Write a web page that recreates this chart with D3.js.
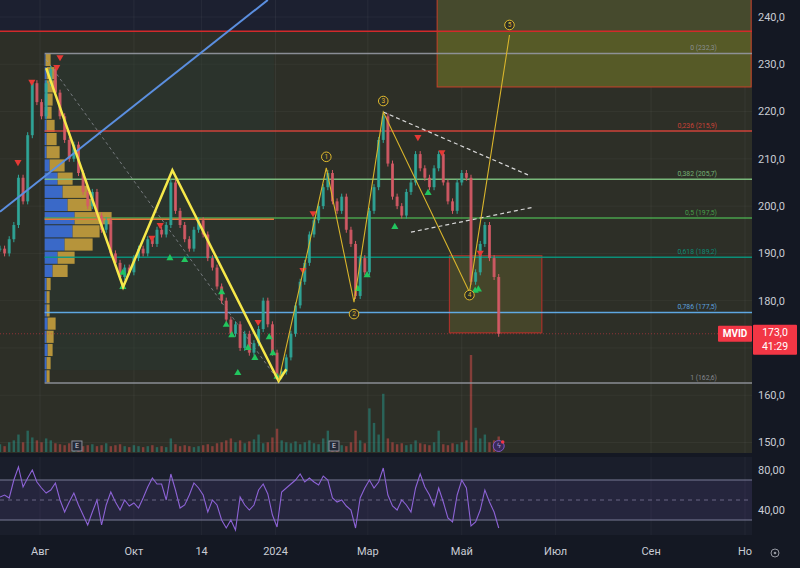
<!DOCTYPE html>
<html><head><meta charset="utf-8">
<script src="https://cdn.jsdelivr.net/npm/d3@7"></script>
<style>body{margin:0;background:#141823;} svg{display:block;font-family:Roboto,"DejaVu Sans",sans-serif;}</style>
</head><body><svg id="c" width="800" height="568"></svg>
<script>
// ---------- DATA ----------
const startDate = Date.UTC(2023, 6, 6);   // first bar
const stepDays = 3;                        // bar spacing (days)
const closes = [191,190,193,196,206,201,215,226,222,219,226,229,224,219,214,210,213,207,203,200,
  203,198,195,197,190,188,185,187,186,189,191,190,193,192,195,194,196,205,199,196,
  193,191,195,197,194,189,187,183,180,176,173,175,170,173,169,171,174,180,175,169,
  164,165,168,173,179,184,188,194,197,200,204,207,201,199,202,195,192,181,189,186,
  199,204,214,219,209,202,200,198,203,205,211,208,206,204,208,211,205,201,199,205,
  207,206,184,186,192,196,189,185,173];
const volumes = [8,6,10,12,18,10,22,15,12,10,14,12,9,8,7,9,10,8,6,7,
  8,6,7,9,6,7,8,6,5,7,6,5,6,7,5,6,5,14,8,6,
  7,6,5,6,7,8,6,9,10,12,14,10,12,9,11,13,18,9,10,15,
  24,12,10,9,11,8,10,12,9,8,14,22,10,8,7,6,10,22,12,9,
  45,30,18,60,14,10,8,9,7,8,12,9,8,7,10,22,8,7,9,8,
  10,12,100,25,14,18,10,12,16];
const rsiValues = [53,55,52,70,83,63,72,80,68,62,57,60,67,50,38,48,57,45,35,25,
  38,50,25,45,58,48,40,50,44,47,42,52,63,72,66,66,50,76,60,42,
  45,55,67,62,55,38,50,45,30,22,30,20,53,45,40,45,60,66,56,35,
  23,58,62,66,70,76,68,72,68,65,74,70,52,48,50,44,40,22,52,62,
  70,62,68,82,55,44,40,50,45,38,62,76,63,55,44,62,48,32,28,55,
  70,62,24,28,40,60,48,38,22];
const priceTicks = [150,160,170,180,190,200,210,220,230,240];
const rsiTicks = [40,80];
const timeTicks = [["2023-08-01","Авг"],["2023-10-01","Окт"],["2023-11-14","14"],["2024-01-01","2024"],
  ["2024-03-01","Мар"],["2024-05-01","Май"],["2024-07-01","Июл"],["2024-09-01","Сен"],["2024-11-01","Но"]];
const fibStart = "2023-08-04";
const fibPrices = [232.3,215.9,205.7,197.5,189.2,177.5,162.6];
const fibLabels = ["0 (232,3)","0,236 (215,9)","0,382 (205,7)","0,5 (197,5)","0,618 (189,2)","0,786 (177,5)","1 (162,6)"];
// volume profile rows (top to bottom between 232.3 and 162.6): up/down volume
const profileUp   = [1,2,2,2,2,2,2,2,5,13,18,23,30,28,20,13,8,2,2,2,3,2,3,2,2];
const profileDown = [5,8,10,6,5,8,10,13,15,15,25,24,37,27,28,17,15,4,3,3,8,7,5,4,3];
const profileRange = [162.6, 232.3];
const profileDates = ["2023-08-04","2023-12-31"];
const pocPrice = 197.2;
// drawings
const zigzag = [["2023-08-05",229.2],["2023-09-24",182.9],["2023-10-26",207.6],["2024-01-03",163.0],["2024-01-08",165.5]];
const waves = [["2024-01-03",163.0],["2024-02-03",208.1],["2024-02-21",179.7],["2024-03-11",219.9],["2024-05-06",181.8],["2024-06-01",236.2]];
const waveNames = ["","1","2","3","4","5"];
const trendBlue = [["2023-07-06",198.8],["2023-12-27",243.6]];
const triUpper = [["2024-03-11",219.9],["2024-06-13",206.6]];
const triLower = [["2024-03-29",194.5],["2024-06-17",199.8]];
const fibTrend = [["2023-08-05",231.0],["2024-01-03",163.0]];
const bigBox = ["2023-07-01","2024-11-10",237.0];         // shaded region below the red line
const targetBox = ["2024-04-15","2024-11-05",250,237.0,225.2];
const zoneBox = ["2024-04-23","2024-06-22",189.5,173.2];
const buySignals = [[26.6,185.9],[26.6,182.9],[36.8,189],[40,188.6],[48,181.8],[49,174.9],[50.2,172.7],[53.7,170],
  [55.2,167.9],[58.3,172.3],[59.1,168.9],[51.5,164.7],[60,163.9],[77.5,182.5],[79.5,185.4],[85.5,195.6],[92.7,202.8],[102.9,182.1],[103.6,182.4]];
const sellSignals = [[6.9,226.3],[3.9,209.3],[13,231.5],[12.3,229.4],[32.9,193.3],[34.7,196],[55.9,175.5],[65.6,186.5],
  [67.8,198.5],[90.5,214.6],[95.7,211.4],[104,190.1]];
const earnings = ["2023-08-25","2024-02-08"];
const lastPrice = 173.0, ticker = "MVID", countdown = "41:29";

// ---------- SETUP ----------
const svg = d3.select("#c");
const W = 800, H = 568, plotR = 752, mainB = 453, rsiT = 457, rsiB = 535;
const P = d3.utcParse("%Y-%m-%d");
const dateAt = i => new Date(startDate + i * stepDays * 864e5);
const x = d3.scaleUtc().domain([P("2023-08-01"), P("2024-11-01")]).range([40, 745]);
const y = d3.scaleLinear().domain([150, 240]).range([442.5, 17]);
const yR = d3.scaleLinear().domain([30, 70]).range([520, 480]);
const vH = d3.scaleLinear().domain([0, 100]).range([0, 97]);
const pW = d3.scaleLinear().domain([0, 70]).range([0, 70]);
const line = d3.line().x(d => x(P(d[0]))).y(d => y(d[1]));

svg.append("rect").attr("width", W).attr("height", H).attr("fill", "#141823");
const defs = svg.append("defs");
defs.append("clipPath").attr("id", "cm").append("rect").attr("x", 0).attr("y", 0).attr("width", plotR).attr("height", mainB);
defs.append("clipPath").attr("id", "cr").append("rect").attr("x", 0).attr("y", rsiT).attr("width", plotR).attr("height", rsiB - rsiT);

const main = svg.append("g").attr("clip-path", "url(#cm)");
main.append("rect").attr("width", plotR).attr("height", mainB).attr("fill", "#1c2030");
// big shaded region
main.append("rect").attr("x", x(P(bigBox[0]))).attr("width", x(P(bigBox[1])) - x(P(bigBox[0])))
  .attr("y", y(bigBox[2])).attr("height", mainB - y(bigBox[2])).attr("fill", "#2d2f27");

// grid
main.selectAll(".vg").data(timeTicks).join("line").attr("x1", d => x(P(d[0]))).attr("x2", d => x(P(d[0])))
  .attr("y1", 0).attr("y2", mainB).attr("stroke", "#ffffff").attr("stroke-opacity", 0.05);
main.selectAll(".hg").data(priceTicks).join("line").attr("x1", 0).attr("x2", plotR).attr("y1", d => y(d)).attr("y2", d => y(d))
  .attr("stroke", "#ffffff").attr("stroke-opacity", 0.04);

// target box
const tb0 = x(P(targetBox[0])), tb1 = x(P(targetBox[1]));
main.append("rect").attr("x", tb0).attr("width", tb1 - tb0).attr("y", y(targetBox[2])).attr("height", y(targetBox[3]) - y(targetBox[2]))
  .attr("fill", "#464a2d");
main.append("rect").attr("x", tb0).attr("width", tb1 - tb0).attr("y", y(targetBox[3])).attr("height", y(targetBox[4]) - y(targetBox[3]))
  .attr("fill", "#565a27");
main.append("rect").attr("x", tb0).attr("width", tb1 - tb0).attr("y", y(targetBox[2])).attr("height", y(targetBox[4]) - y(targetBox[2]))
  .attr("fill", "none").attr("stroke", "#c8402a").attr("stroke-width", 1);
// red line at top of shaded region
main.append("line").attr("x1", 0).attr("x2", plotR).attr("y1", y(bigBox[2])).attr("y2", y(bigBox[2]))
  .attr("stroke", "#d22a2a").attr("stroke-width", 1.5);

// zone box
const zb0 = x(P(zoneBox[0])), zb1 = x(P(zoneBox[1]));
main.append("rect").attr("x", zb0).attr("width", zb1 - zb0).attr("y", y(zoneBox[2])).attr("height", y(zoneBox[3]) - y(zoneBox[2]))
  .attr("fill", "#45452a").attr("stroke", "#a8312a").attr("stroke-width", 1.2);

// value area shade
const pa0 = x(P(profileDates[0])), pa1 = x(P(profileDates[1]));
main.append("rect").attr("x", pa0).attr("width", pa1 - pa0).attr("y", y(232.3)).attr("height", y(165.3) - y(232.3))
  .attr("fill", "#2a3a34").attr("opacity", 0.45);

// volume
const vols = volumes.map((v, i) => ({ d: dateAt(i), v, up: i === 0 || closes[i] >= closes[i - 1] }));
main.selectAll(".vol").data(vols).join("rect")
  .attr("x", d => x(d.d) - 1.2).attr("width", 2.4).attr("y", d => 452 - vH(d.v)).attr("height", d => vH(d.v))
  .attr("fill", d => d.up ? "#26a69a" : "#ef5350").attr("opacity", 0.45);

// volume profile
const rowH = (profileRange[1] - profileRange[0]) / profileUp.length;
const rows = profileUp.map((u, k) => ({ top: profileRange[1] - k * rowH, u, dn: profileDown[k] }));
main.selectAll(".pu").data(rows).join("rect").attr("x", pa0).attr("width", d => pW(d.u))
  .attr("y", d => y(d.top) + 0.5).attr("height", d => y(d.top - rowH) - y(d.top) - 1).attr("fill", "#3c6fd9").attr("opacity", 0.9);
main.selectAll(".pd").data(rows).join("rect").attr("x", d => pa0 + pW(d.u)).attr("width", d => pW(d.dn))
  .attr("y", d => y(d.top) + 0.5).attr("height", d => y(d.top - rowH) - y(d.top) - 1).attr("fill", "#c9a23e").attr("opacity", 0.88);

// fib lines
const fibColors = ["#9598a1", "#e0463c", "#81c784", "#4caf50", "#089981", "#64b5f6", "#9598a1"];
const fx0 = x(P(fibStart));
main.selectAll(".fib").data(fibPrices).join("line").attr("x1", fx0).attr("x2", plotR)
  .attr("y1", d => y(d)).attr("y2", d => y(d)).attr("stroke", (d, i) => fibColors[i]).attr("stroke-width", 1.5).attr("opacity", 0.9);
main.selectAll(".fibt").data(fibPrices).join("text").attr("x", 717).attr("y", d => y(d) - 3)
  .attr("text-anchor", "end").attr("font-size", 6.8).attr("fill", (d, i) => fibColors[i]).attr("opacity", 0.85)
  .text((d, i) => fibLabels[i]);
// POC
main.append("line").attr("x1", pa0).attr("x2", pa1).attr("y1", y(pocPrice)).attr("y2", y(pocPrice))
  .attr("stroke", "#e8763a").attr("stroke-width", 1.5);

// current price dotted line
main.append("line").attr("x1", 0).attr("x2", plotR).attr("y1", y(lastPrice)).attr("y2", y(lastPrice))
  .attr("stroke", "#f23645").attr("stroke-opacity", 0.5).attr("stroke-dasharray", "1,2");

// fib trend dashed
main.append("path").datum(fibTrend).attr("d", line).attr("fill", "none").attr("stroke", "#9598a1")
  .attr("stroke-width", 1).attr("stroke-dasharray", "3,3").attr("opacity", 0.7);

// candles
const bars = closes.map((c, i) => ({ d: dateAt(i), o: i ? closes[i - 1] : c, c }));
main.selectAll(".wick").data(bars).join("line").attr("x1", d => x(d.d)).attr("x2", d => x(d.d))
  .attr("y1", d => y(Math.max(d.o, d.c)) - 3).attr("y2", d => y(Math.min(d.o, d.c)) + 3)
  .attr("stroke", d => d.c >= d.o ? "#2fa89a" : "#d65a66").attr("stroke-width", 1);
main.selectAll(".body").data(bars).join("rect").attr("x", d => x(d.d) - 1.5).attr("width", 3)
  .attr("y", d => y(Math.max(d.o, d.c))).attr("height", d => Math.max(1, Math.abs(y(d.o) - y(d.c))))
  .attr("fill", d => d.c >= d.o ? "#2fa89a" : "#d65a66").attr("opacity", 0.85);

// blue trend line
main.append("path").datum(trendBlue).attr("d", line).attr("fill", "none").attr("stroke", "#5b8fe0").attr("stroke-width", 2);

// triangle dashed
[triUpper, triLower].forEach(t => main.append("path").datum(t).attr("d", line).attr("fill", "none")
  .attr("stroke", "#d8d8d8").attr("stroke-width", 1.2).attr("stroke-dasharray", "4,3"));

// signals
const tri = d3.symbol().type(d3.symbolTriangle).size(22);
main.selectAll(".buy").data(buySignals).join("path").attr("d", tri)
  .attr("transform", d => `translate(${x(dateAt(d[0]))},${y(d[1])})`).attr("fill", "#22c55e");
main.selectAll(".sell").data(sellSignals).join("path").attr("d", tri)
  .attr("transform", d => `translate(${x(dateAt(d[0]))},${y(d[1])}) rotate(180)`).attr("fill", "#e53935");

// yellow zigzag
main.append("path").datum(zigzag).attr("d", line).attr("fill", "none").attr("stroke", "#f6e84a").attr("stroke-width", 2.5)
  .attr("stroke-linejoin", "miter");
// elliott waves
main.append("path").datum(waves).attr("d", line).attr("fill", "none").attr("stroke", "#d9b52c").attr("stroke-width", 1.1);
const wOff = [0, -11, 12, -11, 3, -10];
const wl = main.selectAll(".wl").data(waves.slice(1)).join("g")
  .attr("transform", (d, i) => `translate(${x(P(d[0]))},${y(d[1]) + wOff[i + 1]})`);
wl.append("circle").attr("r", 4.8).attr("fill", "#2d2f27").attr("stroke", "#e0ba2e").attr("stroke-width", 1);
wl.append("text").attr("text-anchor", "middle").attr("dy", "0.35em").attr("font-size", 6.5).attr("fill", "#e0ba2e")
  .text((d, i) => waveNames[i + 1]);

// earnings + event icon
const em = main.selectAll(".em").data(earnings).join("g").attr("transform", d => `translate(${x(P(d))},446)`);
em.append("rect").attr("x", -5).attr("y", -5).attr("width", 10).attr("height", 10).attr("fill", "#252a37").attr("stroke", "#8a8e99");
em.append("text").attr("text-anchor", "middle").attr("dy", "0.35em").attr("font-size", 7).attr("fill", "#d1d4dc").text("E");
const ev = main.append("g").attr("transform", `translate(${x(dateAt(closes.length - 1))},446)`);
ev.append("circle").attr("r", 5.5).attr("fill", "#3a2a5a").attr("stroke", "#7e57c2");
ev.append("text").attr("text-anchor", "middle").attr("dy", "0.35em").attr("font-size", 7).attr("fill", "#b39ddb").text("ϟ");
ev.append("circle").attr("cx", 4).attr("cy", -4).attr("r", 1.8).attr("fill", "#f23645");

// ---------- RSI ----------
const rg = svg.append("g").attr("clip-path", "url(#cr)");
rg.append("rect").attr("x", 0).attr("y", rsiT).attr("width", plotR).attr("height", rsiB - rsiT).attr("fill", "#1a1e2b");
rg.selectAll(".rvg").data(timeTicks).join("line").attr("x1", d => x(P(d[0]))).attr("x2", d => x(P(d[0])))
  .attr("y1", rsiT).attr("y2", rsiB).attr("stroke", "#fff").attr("stroke-opacity", 0.04);
rg.append("rect").attr("x", 0).attr("width", plotR).attr("y", yR(70)).attr("height", yR(30) - yR(70)).attr("fill", "#7e57c2").attr("opacity", 0.12);
[70, 30].forEach(v => rg.append("line").attr("x1", 0).attr("x2", plotR).attr("y1", yR(v)).attr("y2", yR(v)).attr("stroke", "#787b96").attr("stroke-width", 1));
rg.append("line").attr("x1", 0).attr("x2", plotR).attr("y1", yR(50)).attr("y2", yR(50)).attr("stroke", "#6a6785").attr("stroke-dasharray", "4,4");
rg.append("path").datum(rsiValues).attr("d", d3.line().x((d, i) => x(dateAt(i))).y(d => yR(d)))
  .attr("fill", "none").attr("stroke", "#8d63d6").attr("stroke-width", 1.1);

// pane separators
svg.append("rect").attr("x", 0).attr("y", mainB).attr("width", W).attr("height", rsiT - mainB).attr("fill", "#141823");

// ---------- AXES ----------
const ly = y(lastPrice);
svg.append("rect").attr("x", plotR).attr("y", 0).attr("width", W - plotR).attr("height", H).attr("fill", "#141823");
// price ticks (those hidden under the last-price label are not drawn)
svg.selectAll(".pt").data(priceTicks.filter(v => y(v) < ly - 16 || y(v) > ly + 28)).join("text")
  .attr("x", 758).attr("y", d => y(d)).attr("dy", "0.35em")
  .attr("font-size", 11).attr("fill", "#c9ccd4").text(d => d.toFixed(1).replace(".", ","));
svg.selectAll(".rt").data(rsiTicks).join("text").attr("x", 758).attr("y", d => yR(d)).attr("dy", "0.35em")
  .attr("font-size", 11).attr("fill", "#c9ccd4").text(d => d.toFixed(2).replace(".", ","));
svg.selectAll(".tt").data(timeTicks).join("text").attr("x", d => x(P(d[0]))).attr("y", 555)
  .attr("text-anchor", "middle").attr("font-size", 11).attr("fill", "#c9ccd4").text(d => d[1]);
// settings icon
svg.append("circle").attr("cx", 775).attr("cy", 553).attr("r", 4).attr("fill", "none").attr("stroke", "#9598a1");
svg.append("circle").attr("cx", 775).attr("cy", 553).attr("r", 1.3).attr("fill", "#9598a1");

// last price labels
svg.append("rect").attr("x", 718).attr("y", ly - 8).attr("width", 34).attr("height", 16).attr("fill", "#f23645").attr("rx", 1);
svg.append("text").attr("x", 735).attr("y", ly).attr("dy", "0.35em").attr("text-anchor", "middle")
  .attr("font-size", 10).attr("font-weight", "bold").attr("fill", "#fff").text(ticker);
svg.append("rect").attr("x", 753).attr("y", ly - 9).attr("width", 44).attr("height", 30).attr("fill", "#f23645").attr("rx", 1);
svg.append("text").attr("x", 775).attr("y", ly - 1).attr("dy", "0.35em").attr("text-anchor", "middle")
  .attr("font-size", 10.5).attr("fill", "#fff").text(lastPrice.toFixed(1).replace(".", ","));
svg.append("text").attr("x", 775).attr("y", ly + 13).attr("dy", "0.35em").attr("text-anchor", "middle")
  .attr("font-size", 10.5).attr("fill", "#fff").text(countdown);
</script></body></html>
